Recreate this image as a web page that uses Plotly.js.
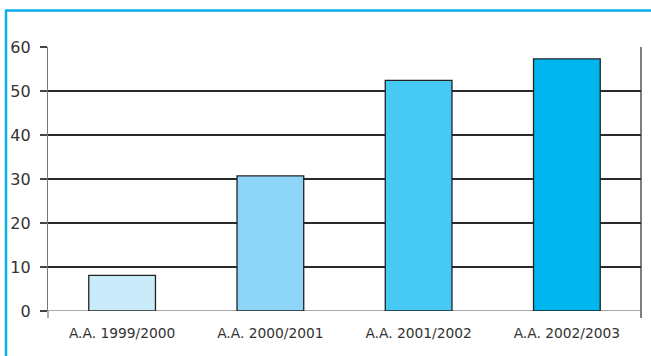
<!DOCTYPE html>
<html>
<head>
<meta charset="utf-8">
<script src="https://cdn.plot.ly/plotly-3.0.1.min.js"></script>
<style>
  html, body { margin: 0; padding: 0; background: #ffffff; }
  #chart { width: 651px; height: 356px; }
</style>
</head>
<body>
<div id="chart"></div>
<script>
// Academic years and their values
const years = ['A.A. 1999/2000', 'A.A. 2000/2001', 'A.A. 2001/2002', 'A.A. 2002/2003'];
const values = [8.1, 30.7, 52.4, 57.3];
const barColors = ['#c8eaf9', '#8dd6f7', '#46c9f3', '#00b6ef'];
const yTicks = [0, 10, 20, 30, 40, 50, 60];

const trace = {
  type: 'bar',
  x: years,
  y: values,
  marker: { color: barColors, opacity: 1, line: { color: '#222222', width: 1.3 } },
  hoverinfo: 'skip'
};

const frameColor = '#0aaee8';
const ML = 48, MR = 10, MT = 47, MB = 45, W = 651, H = 356;
const pw = W - ML - MR, ph = H - MT - MB;
const px = v => (v - ML) / pw;          // pixel x -> paper x
const py = v => (H - MB - v) / ph;      // pixel y -> paper y

const layout = {
  width: W,
  height: H,
  margin: { l: ML, r: MR, t: MT, b: MB, pad: 0 },
  paper_bgcolor: '#ffffff',
  plot_bgcolor: '#ffffff',
  showlegend: false,
  bargap: 0.55,
  font: { family: '"DejaVu Sans", sans-serif', color: '#333333' },
  xaxis: {
    type: 'category',
    showgrid: false,
    zeroline: false,
    showline: false,
    ticks: '',
    tickfont: { size: 13.8, color: '#333333' },
    ticklabelstandoff: 12
  },
  yaxis: {
    range: [0, 60],
    tickvals: yTicks,
    ticktext: yTicks.map(String),
    showgrid: true,
    gridcolor: '#2a2a2a',
    gridwidth: 1.1,
    zeroline: false,
    showline: true,
    linecolor: '#777777',
    linewidth: 1.2,
    mirror: false,
    ticks: 'outside',
    ticklen: 7,
    tickcolor: '#444444',
    tickwidth: 1.1,
    tickfont: { size: 16, color: '#333333' },
    ticklabelstandoff: 6
  },
  shapes: [
    // right border of the plot, extended below the baseline
    { type: 'line', xref: 'paper', yref: 'paper', x0: 1, x1: 1, y0: py(318), y1: 1,
      line: { color: '#2a2a2a', width: 1.2 }, layer: 'below' },
    // y axis line continued below the baseline
    { type: 'line', xref: 'paper', yref: 'paper', x0: 0, x1: 0, y0: py(318), y1: 0,
      line: { color: '#777777', width: 1.2 }, layer: 'below' },
    // baseline
    { type: 'line', xref: 'paper', yref: 'y', x0: 0, x1: 1, y0: 0, y1: 0,
      line: { color: '#555555', width: 1.2 }, layer: 'below' },
    // outer frame: top and left edges
    { type: 'line', xref: 'paper', yref: 'paper', x0: px(5), x1: px(660), y0: py(10.5), y1: py(10.5),
      line: { color: frameColor, width: 2.5 } },
    { type: 'line', xref: 'paper', yref: 'paper', x0: px(6), x1: px(6), y0: py(10), y1: py(400),
      line: { color: frameColor, width: 2.5 } }
  ]
};

Plotly.newPlot('chart', [trace], layout, { staticPlot: true, displayModeBar: false });
</script>
</body>
</html>
